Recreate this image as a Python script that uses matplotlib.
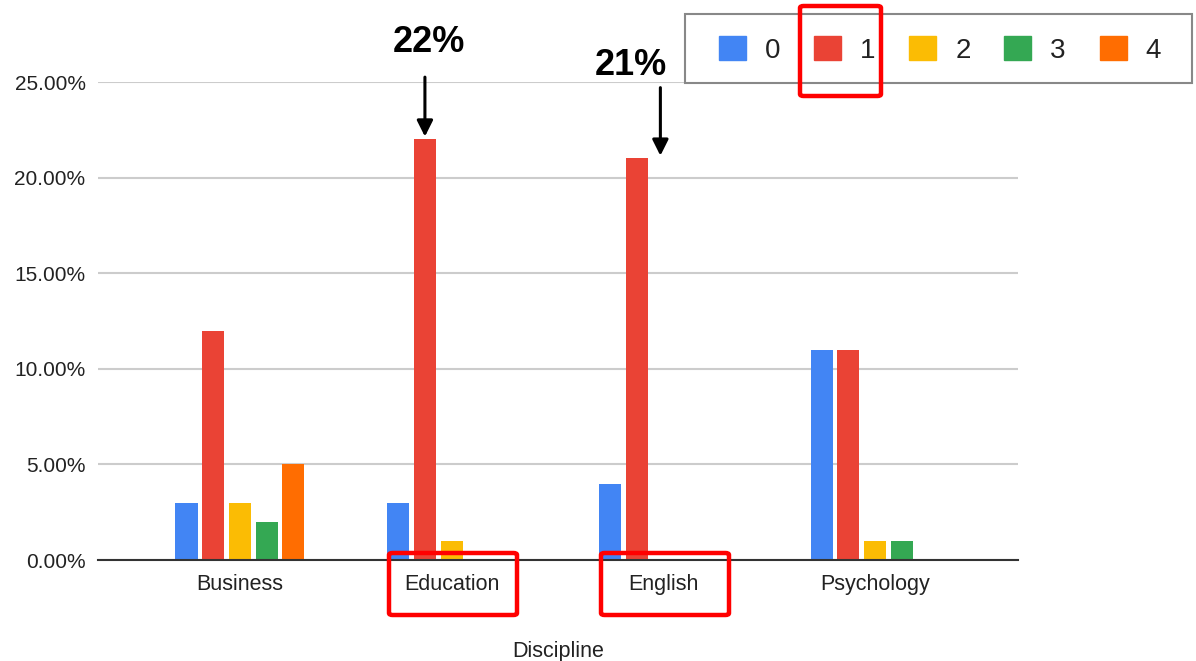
import matplotlib
matplotlib.use("Agg")
import matplotlib.pyplot as plt
import numpy as np
from matplotlib.patches import Patch, FancyBboxPatch, Rectangle

plt.rcParams['font.family'] = ['Liberation Sans', 'DejaVu Sans']

categories = ["Business", "Education", "English", "Psychology"]
series_names = ["0", "1", "2", "3", "4"]
s0 = [3, 3, 4, 11]
s1 = [12, 22, 21, 11]
s2 = [3, 1, 0, 1]
s3 = [2, 0, 0, 1]
s4 = [5, 0, 0, 0]
series = [s0, s1, s2, s3, s4]
colors = ["#4285F4", "#EA4335", "#FBBC04", "#34A853", "#FF6D01"]
yticks = [0, 5, 10, 15, 20, 25]
ytick_labels = ["0.00%", "5.00%", "10.00%", "15.00%", "20.00%", "25.00%"]

W, H = 1196, 661
fig = plt.figure(figsize=(W / 100, H / 100), dpi=100)
ax = fig.add_axes([98 / W, 1 - 560 / H, (1018 - 98) / W, (560 - 82) / H])

x = np.arange(len(categories))
pitch = 0.126
width = 0.104
n = len(series)
for i, (vals, c) in enumerate(zip(series, colors)):
    offs = (i - (n - 1) / 2) * pitch
    ax.bar(x + offs, vals, width=width, color=c, zorder=3, label=series_names[i])

ax.set_xlim(-0.67, 3.675)
ax.set_ylim(0, 25)
ax.set_yticks(yticks)
ax.set_yticklabels(ytick_labels, fontsize=15, color="#222222")
ax.set_xticks(x)
ax.set_xticklabels(categories, fontsize=15.5, color="#222222")
ax.tick_params(axis="both", length=0)
ax.tick_params(axis="y", pad=9)
ax.tick_params(axis="x", pad=10)
ax.grid(axis="y", color="#cccccc", linewidth=1.5, zorder=0)
for s in ["top", "right", "left"]:
    ax.spines[s].set_visible(False)
ax.spines["bottom"].set_color("#333333")
ax.spines["bottom"].set_linewidth(1.5)
ax.spines["bottom"].set_zorder(4)
ax.set_xlabel("Discipline", fontsize=15.5, color="#222222", labelpad=33)

# annotations with arrows
ax.annotate("", xy=(1 - pitch, 22), xytext=(1 - pitch, 25.4),
            arrowprops=dict(arrowstyle="-|>", color="black", lw=2.2, mutation_scale=24),
            annotation_clip=False)
ax.text(1 - pitch + 0.02, 27.05, "22%", fontsize=26, fontweight="bold",
        ha="center", va="center", clip_on=False)
ax.annotate("", xy=(1.986, 21), xytext=(1.986, 24.85),
            arrowprops=dict(arrowstyle="-|>", color="black", lw=2.2, mutation_scale=24),
            annotation_clip=False)
ax.text(1.845, 25.85, "21%", fontsize=26, fontweight="bold",
        ha="center", va="center", clip_on=False)

# legend with custom frame
fig.patches.append(Rectangle((685 / W, 1 - 83 / H), (1192 - 685) / W, (83 - 14) / H,
                             transform=fig.transFigure, fill=True, facecolor="white",
                             edgecolor="#888888", linewidth=1.5, zorder=5))
handles = [Patch(facecolor=c, edgecolor=c) for c in colors]
leg = fig.legend(handles, series_names, loc="center", ncol=5,
                 bbox_to_anchor=(940 / W, 1 - 50 / H), fontsize=20,
                 frameon=False,
                 handlelength=0.97, handleheight=0.97, handletextpad=0.68,
                 columnspacing=1.22, borderpad=0, borderaxespad=0)
leg.set_zorder(6)
for t in leg.get_texts():
    t.set_color("#222222")

# red highlight boxes (pixel coordinates)
def red_box(x0, y0, x1, y1):
    fig.patches.append(FancyBboxPatch((x0 / W, 1 - y1 / H), (x1 - x0) / W, (y1 - y0) / H,
                                      boxstyle="round,pad=0,rounding_size=0.003",
                                      transform=fig.transFigure, fill=False,
                                      edgecolor="#ff0000", linewidth=3.2, zorder=10))

red_box(800, 6, 881, 96)
red_box(389, 553, 517, 615)
red_box(601, 553, 729, 615)

fig.savefig("out.png", dpi=100)
